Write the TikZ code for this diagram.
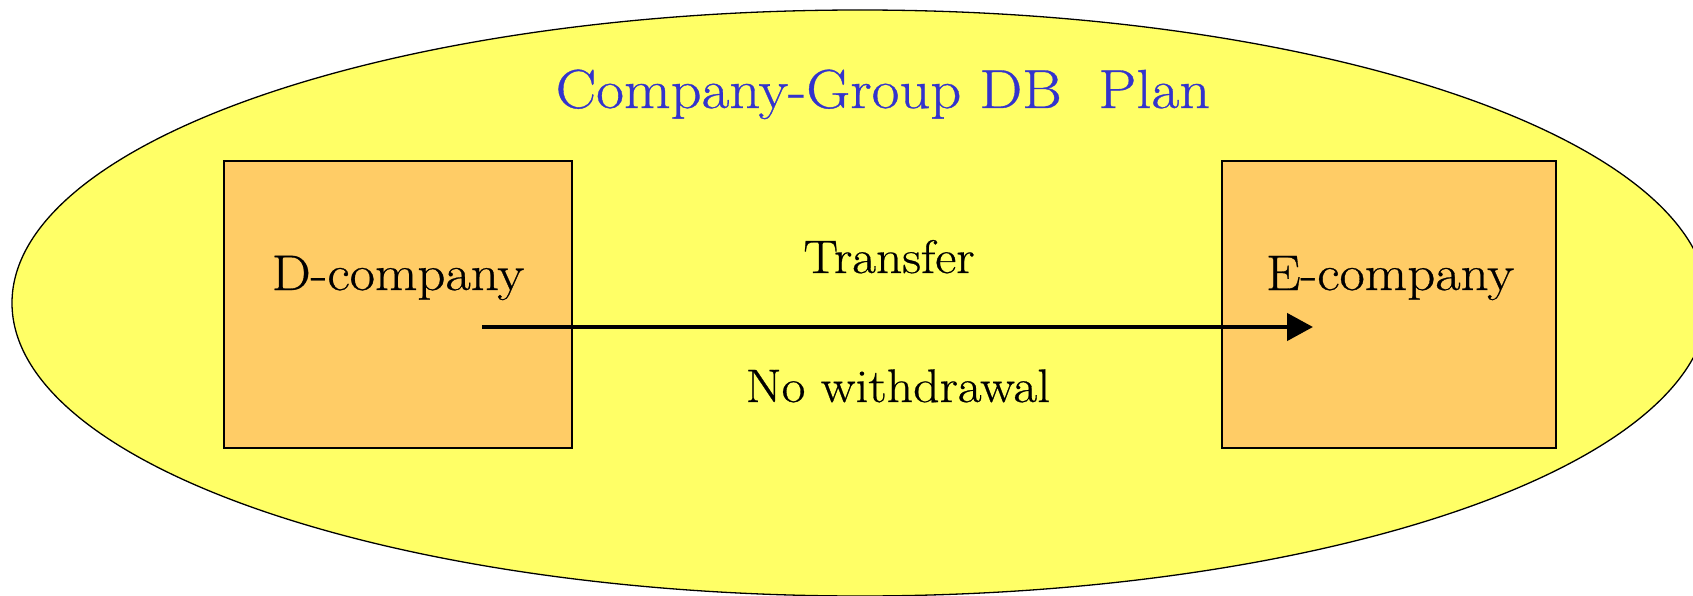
\documentclass[tikz,border=0pt]{standalone}
\usepackage{fontspec}
\setmainfont{Latin Modern Roman}[FakeStretch=1.1, FakeBold=0.6]
\usetikzlibrary{shapes.geometric,arrows.meta}

\definecolor{groupfill}{RGB}{255,255,102}
\definecolor{companyfill}{RGB}{255,204,102}
\definecolor{titleblue}{RGB}{51,51,204}

\tikzset{
  groupshape/.style={ellipse, draw=black, line width=1.3pt, fill=groupfill,
    inner sep=0pt, minimum width=1696pt, minimum height=586pt},
  companybox/.style={rectangle, draw=black, line width=1.2pt, fill=companyfill,
    inner sep=0pt, minimum width=#1, minimum height=287pt},
  boxtext/.style={anchor=base, inner sep=0pt, font=\fontsize{50}{60}\selectfont},
  titletext/.style={anchor=base, inner sep=0pt, text=titleblue, font=\fontsize{55}{66}\selectfont},
  flowtext/.style={anchor=base, inner sep=0pt, font=\fontsize{47}{56}\selectfont},
  flowarrow/.style={line width=4.5pt, -{Triangle[length=26pt,width=27pt]}},
}

\begin{document}
\begin{tikzpicture}[x=1pt,y=-1pt]
  \useasboundingbox (0,0) rectangle (1693,596);

  % the company group
  \node[groupshape] (group) at (860,303) {};
  \node[titletext] (title) at (883,108) {Company-Group DB\ \ Plan};

  % the two companies
  \node[companybox=348pt] (dbox) at (398,304.5) {};
  \node[companybox=334pt] (ebox) at (1389,304.5) {};
  \node[boxtext] (dname) at (398,290) {D-company};
  \node[boxtext] (ename) at (1390,290) {E-company};

  % transfer between them
  \coordinate (from) at ([shift={(84pt,-22.5pt)}]dbox.center);
  \coordinate (to) at ([shift={(-76pt,-22.5pt)}]ebox.center);
  \draw[flowarrow] (from) -- (to);
  \node[flowtext] (transfer) at (889,273) {Transfer};
  \node[flowtext] (nowd) at (898,402) {No withdrawal};
\end{tikzpicture}
\end{document}
